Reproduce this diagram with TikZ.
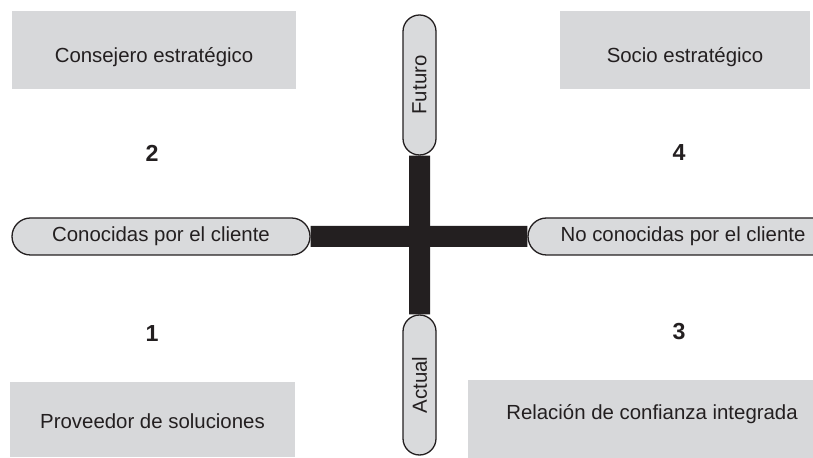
\documentclass[tikz,border=0pt]{standalone}
\usepackage{fontspec}
\setmainfont{Liberation Sans}
\usetikzlibrary{shapes.misc, backgrounds, positioning}
\definecolor{boxgray}{RGB}{215,216,218}
\definecolor{pillgray}{RGB}{217,218,220}
\definecolor{inkblack}{RGB}{35,31,32}

\begin{document}
\begin{tikzpicture}[x=0.5pt, y=-0.5pt, line cap=round, line join=round,
    caja/.style={fill=boxgray, inner sep=0pt, text=inkblack, font=\fontsize{10.2}{12}\selectfont},
    pill/.style={rounded rectangle, draw=inkblack, line width=0.65pt, fill=pillgray, inner sep=0pt,
                 text=inkblack, font=\fontsize{10.2}{12}\selectfont},
    barra/.style={draw=inkblack, line width=10.5pt, line cap=butt},
    num/.style={text=inkblack, font=\fontsize{11.6}{13}\selectfont\bfseries}]
    \useasboundingbox (0,0) rectangle (813,458);
    \clip (0,0) rectangle (813,458);

    % cuadrantes
    \node[caja, minimum width=142pt, minimum height=39pt,
          label={[caja, fill=none, yshift=-3.5pt]center:Consejero estratégico}] (consejero) at (154,50) {};
    \node[caja, minimum width=125pt, minimum height=39pt,
          label={[caja, fill=none, yshift=-3.5pt]center:Socio estratégico}] (socio) at (685,50) {};
    \node[caja, minimum width=142.5pt, minimum height=37.5pt,
          label={[caja, fill=none, yshift=-1pt]center:Proveedor de soluciones}] (proveedor) at (152.5,419.5) {};
    \node[caja, minimum width=184pt, minimum height=39pt,
          label={[caja, fill=none, yshift=2.5pt]center:Relación de confianza integrada}] (relacion) at (652,419) {};

    \node[num] (n2) at (152,153) {2};
    \node[num] (n4) at (679,153) {4};
    \node[num] (n1) at (152,334) {1};
    \node[num] (n3) at (679,332) {3};

    % ejes
    \node[pill, minimum width=149pt, minimum height=18.5pt] (conocidas) at (161,236.5) {Conocidas por el cliente};
    \node[pill, minimum width=155pt, minimum height=18.5pt] (noconocidas) at (683,236.5) {No conocidas por el cliente};
    \node[pill, rotate=90, minimum width=70pt, minimum height=16.5pt] (futuro) at (419.5,85) {Futuro};
    \node[pill, rotate=90, minimum width=70pt, minimum height=16.5pt] (actual) at (419.5,385) {Actual};

    \begin{scope}[on background layer]
        \draw[barra] (conocidas) -- (noconocidas);
        \draw[barra] (futuro) -- (actual);
    \end{scope}
\end{tikzpicture}
\end{document}
